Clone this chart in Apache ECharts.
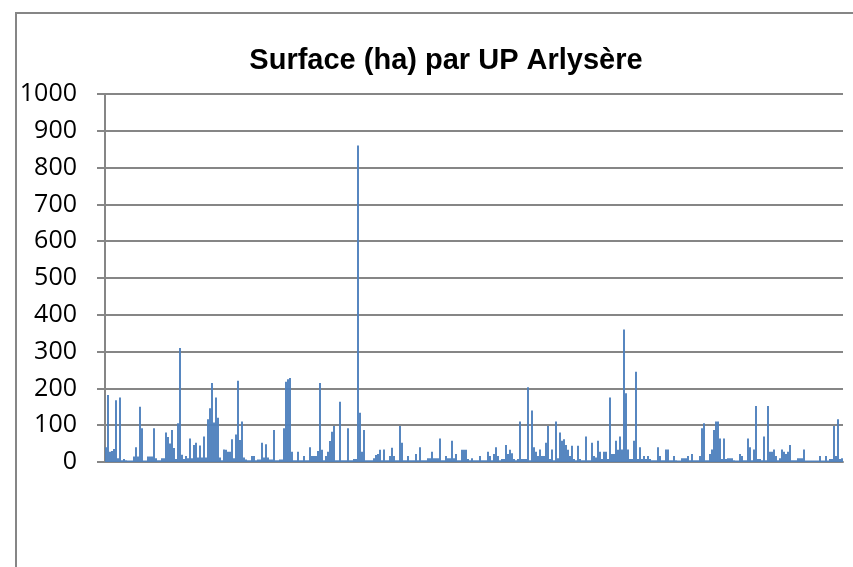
<!DOCTYPE html>
<html lang="fr">
  <head>
    <meta charset="UTF-8" />
    <title>Surface (ha) par UP Arlysère</title>
    <script src="https://cdn.jsdelivr.net/npm/echarts@6/dist/echarts.min.js"></script>
    <style>
      html, body { margin: 0; padding: 0; background: #fff; }
      #chart { width: 853px; height: 567px; }
    </style>
  </head>
  <body>
    <div id="chart"></div>
    <script>
      // surfaces, une valeur par UP (de gauche à droite)
      const surfaces = [
        40, 182, 28, 30, 35, 168, 10, 175, 5, 8, 5, 4, 4, 4, 15, 40, 15, 150, 92, 4,
        4, 15, 15, 15, 92, 10, 5, 5, 10, 10, 80, 68, 50, 87, 38, 8, 105, 310, 20, 8,
        16, 10, 64, 10, 46, 52, 12, 45, 12, 69, 12, 116, 146, 215, 107, 175, 120, 12, 5, 34,
        33, 28, 28, 62, 10, 75, 221, 60, 110, 12, 7, 5, 5, 16, 16, 5, 7, 7, 52, 12,
        48, 12, 7, 7, 87, 5, 5, 7, 7, 92, 218, 225, 228, 28, 5, 5, 28, 5, 5, 16,
        5, 5, 40, 16, 16, 16, 30, 215, 33, 5, 16, 28, 57, 82, 98, 5, 5, 164, 5, 5,
        5, 92, 5, 5, 8, 8, 860, 134, 28, 87, 5, 5, 5, 5, 10, 19, 22, 33, 5, 34,
        5, 5, 16, 39, 16, 5, 5, 98, 52, 5, 5, 16, 5, 5, 5, 22, 5, 40, 5, 5,
        5, 10, 10, 28, 10, 10, 10, 64, 5, 5, 16, 10, 10, 58, 10, 22, 5, 5, 33, 33,
        33, 8, 5, 10, 5, 5, 5, 16, 5, 5, 5, 28, 16, 5, 22, 40, 16, 5, 8, 8,
        46, 22, 33, 24, 8, 5, 8, 110, 8, 8, 8, 203, 5, 140, 40, 28, 16, 34, 16, 16,
        52, 98, 8, 34, 5, 110, 10, 80, 58, 62, 46, 33, 16, 44, 8, 5, 44, 8, 5, 5,
        69, 5, 5, 52, 16, 12, 58, 28, 8, 28, 28, 8, 175, 22, 22, 58, 33, 69, 34, 360,
        187, 34, 8, 8, 58, 245, 8, 40, 8, 16, 8, 16, 8, 5, 5, 5, 40, 16, 5, 5,
        34, 34, 5, 5, 16, 5, 4, 4, 10, 10, 10, 16, 5, 22, 5, 5, 5, 16, 92, 105,
        5, 5, 22, 34, 87, 110, 110, 64, 8, 64, 8, 10, 10, 10, 5, 4, 4, 22, 16, 5,
        5, 64, 40, 5, 34, 152, 8, 8, 5, 69, 5, 152, 28, 28, 34, 16, 5, 10, 34, 28,
        22, 28, 46, 5, 5, 5, 10, 10, 10, 34, 4, 4, 4, 4, 4, 4, 4, 16, 4, 4,
        16, 4, 8, 8, 98, 16, 116, 8, 10
      ];
      const ups = surfaces.map((v, i) => "UP " + (i + 1));
      const yTicks = [0, 100, 200, 300, 400, 500, 600, 700, 800, 900, 1000];

      const gris = "#868686";
      let chart = echarts.init(document.getElementById("chart"));
      chart.setOption({
        animation: false,
        title: {
          text: "Surface (ha) par UP Arlysère",
          left: 441,
          top: 41,
          textAlign: "center",
          textStyle: {
            fontFamily: "Liberation Sans, Arial",
            fontWeight: "bold",
            fontSize: 29,
            color: "#000",
          },
        },
        // cadre de la zone de graphique (coupé à droite et en bas)
        graphic: [
          {
            type: "rect",
            shape: { x: 16, y: 13, width: 900, height: 600 },
            style: { fill: "none", stroke: gris, lineWidth: 2 },
            silent: true,
          },
        ],
        grid: { left: 105, right: 10, top: 94, bottom: 105 },
        xAxis: {
          type: "category",
          data: ups,
          axisLine: { lineStyle: { color: gris, width: 2 } },
          axisTick: { show: false },
          axisLabel: { show: false },
        },
        yAxis: {
          type: "value",
          min: yTicks[0],
          max: yTicks[yTicks.length - 1],
          interval: 100,
          axisLine: { show: true, lineStyle: { color: gris, width: 2 } },
          axisTick: { show: true, length: 8, lineStyle: { color: gris, width: 2 } },
          splitLine: { lineStyle: { color: gris, width: 2 } },
          axisLabel: {
            color: "#000",
            fontFamily: "Open Sans",
            fontSize: 25,
            margin: 28,
            padding: [9, 0, 0, 0],
            formatter: (v) => String(v),
          },
        },
        series: [
          {
            type: "bar",
            data: surfaces,
            barCategoryGap: "5%",
            itemStyle: { color: "#4f81bd" },
          },
        ],
      });
    </script>
  </body>
</html>
